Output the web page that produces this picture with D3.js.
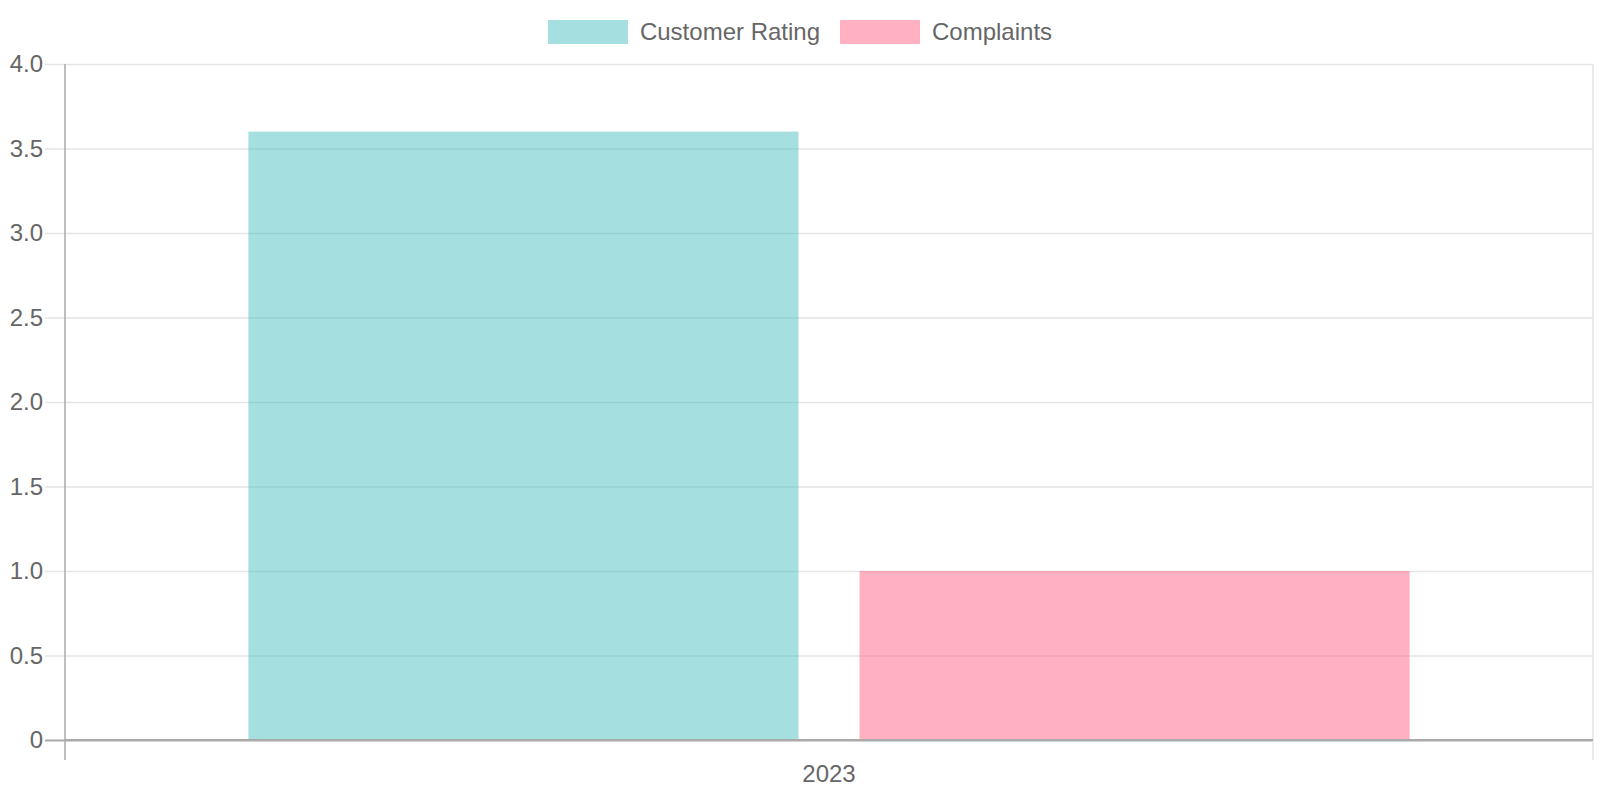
<!DOCTYPE html>
<html>
<head>
<meta charset="utf-8">
<script src="https://cdn.jsdelivr.net/npm/d3@7"></script>
<style>
  html, body { margin: 0; padding: 0; background: #fff; }
  svg text { font-family: "Liberation Sans", Arial, Helvetica, sans-serif; fill: #666; }
</style>
</head>
<body>
<svg id="chart" width="1600" height="800"></svg>
<script>
// chart data
const categories = ["2023"];
const seriesNames = ["Customer Rating", "Complaints"];
const seriesValues = [[3.6], [1.0]];
const yTicks = [0, 0.5, 1.0, 1.5, 2.0, 2.5, 3.0, 3.5, 4.0];
const seriesColors = ["rgba(75, 192, 192, 0.5)", "rgba(255, 99, 132, 0.5)"];

const W = 1600, H = 800;
const margin = {top: 64, right: 7, bottom: 60, left: 65};
const fontSize = 24;

const svg = d3.select("#chart");

const x = d3.scaleBand()
  .domain(categories)
  .range([margin.left, W - margin.right])
  .paddingInner(0).paddingOuter(0);

// chart.js style: categoryPercentage 0.8, barPercentage 0.9
const xSeries = d3.scaleBand()
  .domain(seriesNames)
  .range([x.bandwidth() * 0.1, x.bandwidth() * 0.9])
  .paddingInner(0.1).paddingOuter(0.05);

const y = d3.scaleLinear()
  .domain([0, 4])
  .range([H - margin.bottom, margin.top]);

// horizontal grid lines
svg.append("g")
  .selectAll("line")
  .data(yTicks)
  .join("line")
  .attr("x1", margin.left - 20)
  .attr("x2", W - margin.right)
  .attr("y1", d => y(d) + 0.5)
  .attr("y2", d => y(d) + 0.5)
  .attr("stroke", d => d === 0 ? "#aaa" : "#e5e5e5")
  .attr("stroke-width", d => d === 0 ? 2 : 1.5);

// right vertical grid line
svg.append("line")
  .attr("x1", W - margin.right).attr("x2", W - margin.right)
  .attr("y1", margin.top).attr("y2", H - margin.bottom + 20)
  .attr("stroke", "#e5e5e5").attr("stroke-width", 1.5);

// y tick labels
svg.append("g")
  .selectAll("text")
  .data(yTicks)
  .join("text")
  .attr("x", margin.left - 22)
  .attr("y", d => y(d))
  .attr("dy", "0.35em")
  .attr("text-anchor", "end")
  .style("font-size", fontSize + "px")
  .text(d => d === 0 ? "0" : d3.format(".1f")(d));

// bars
const groups = svg.append("g")
  .selectAll("g")
  .data(categories)
  .join("g")
  .attr("transform", d => `translate(${x(d)},0)`);

groups.selectAll("rect")
  .data((d, i) => seriesNames.map((s, j) => ({s, j, v: seriesValues[j][i]})))
  .join("rect")
  .attr("x", d => xSeries(d.s))
  .attr("width", xSeries.bandwidth())
  .attr("y", d => y(d.v))
  .attr("height", d => y(0) - y(d.v))
  .attr("fill", d => seriesColors[d.j]);

// left axis line
svg.append("line")
  .attr("x1", margin.left).attr("x2", margin.left)
  .attr("y1", margin.top).attr("y2", H - margin.bottom + 20)
  .attr("stroke", "#aaa").attr("stroke-width", 1.5);

// redraw zero line on top
svg.append("line")
  .attr("x1", margin.left).attr("x2", W - margin.right)
  .attr("y1", y(0)).attr("y2", y(0))
  .attr("stroke", "#aaa").attr("stroke-width", 2);

// x labels
svg.append("g")
  .selectAll("text")
  .data(categories)
  .join("text")
  .attr("x", d => x(d) + x.bandwidth() / 2)
  .attr("y", H - margin.bottom + 34)
  .attr("dy", "0.35em")
  .attr("text-anchor", "middle")
  .style("font-size", fontSize + "px")
  .text(d => d);

// legend
const boxW = 80, boxH = 24, gap = 12, itemGap = 20;
const legend = svg.append("g");
const items = legend.selectAll("g")
  .data(seriesNames)
  .join("g");
items.append("rect")
  .attr("width", boxW).attr("height", boxH)
  .attr("fill", (d, i) => seriesColors[i]);
items.append("text")
  .attr("x", boxW + gap)
  .attr("y", boxH / 2)
  .attr("dy", "0.35em")
  .style("font-size", fontSize + "px")
  .text(d => d);

let widths = [];
items.each(function() { widths.push(boxW + gap + this.querySelector("text").getComputedTextLength()); });
const total = d3.sum(widths) + itemGap * (widths.length - 1);
let cx = W / 2 - total / 2;
items.attr("transform", (d, i) => {
  const t = `translate(${cx},20)`;
  cx += widths[i] + itemGap;
  return t;
});
</script>
</body>
</html>
